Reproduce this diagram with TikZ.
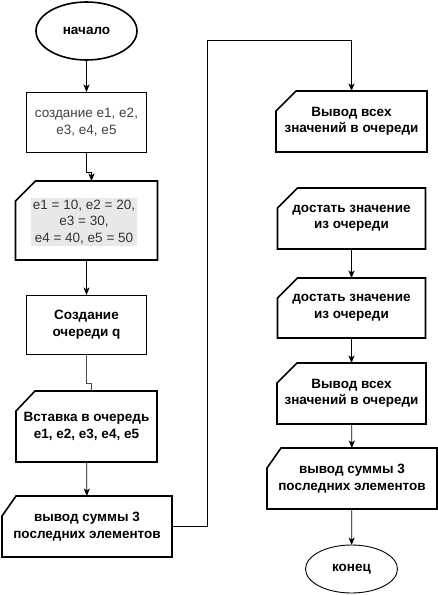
\documentclass[tikz,border=0pt]{standalone}
\usepackage{fontspec}
\setmainfont{Liberation Sans}
\usepackage{xcolor}
\usetikzlibrary{shapes}
\usetikzlibrary{arrows.meta}
\tikzset{
  font={\fontsize{13.5pt}{16.5pt}\selectfont}}

\begin{document}
\begin{tikzpicture}[x=1pt, y=-1pt]

    \tikzset{edge/.style = {->,> = {Stealth[length=7.5pt, width=6pt, inset=2pt]}, line width=0.8pt}}
    \tikzset{card/.style = {rectangle, inner sep=0pt, outer sep=0pt, align=center, font={\fontsize{13.5pt}{16.5pt}\selectfont\bfseries}}}
    \tikzset{box/.style = {rectangle, draw=black, line width=0.9pt, inner sep=0pt, outer sep=0pt, align=center}}

    \useasboundingbox (0,0) rectangle (438,595);

    % vertices
    \node[ellipse, draw=black, line width=1.6pt, outer sep=0pt, minimum width=101pt, minimum height=58pt] (start)
        at (86.5,31) {\textbf{начало}};
    \node[box, minimum width=120pt, minimum height=60pt, text=black!75] (create)
        at (86.5,122) {создание e1, e2,\\ e3, e4, e5};
    \node[card, minimum width=142pt, minimum height=79pt] (vals)
        at (86.5,220.5) {};
    \node[fill=black!9, text=black!80, inner sep=1.5pt, align=center] (valstext)
        at (84,222) {e1 = 10, e2 = 20,\\ e3 = 30,\\ e4 = 40, e5 = 50};
    \node[box, minimum width=120pt, minimum height=59pt, font={\fontsize{13.5pt}{16.5pt}\selectfont\bfseries}] (queue)
        at (86.5,324.5) {Создание\\ очереди q};
    \node[card, minimum width=141pt, minimum height=71pt] (push)
        at (86.5,426.5) {Вставка в очередь\\ e1, e2, e3, e4, e5};
    \node[card, minimum width=170pt, minimum height=61pt] (sumA)
        at (87,526.5) {вывод суммы 3\\ последних элементов};
    \node[card, minimum width=151pt, minimum height=61pt] (showA)
        at (351.5,121.5) {Вывод всех\\ значений в очереди};
    \node[card, minimum width=148pt, minimum height=61pt] (popA)
        at (351.5,218.5) {достать значение\\ из очереди};
    \node[card, minimum width=148pt, minimum height=60pt] (popB)
        at (351.5,308) {достать значение\\ из очереди};
    \node[card, minimum width=149pt, minimum height=61pt] (showB)
        at (351.5,393.5) {Вывод всех\\ значений в очереди};
    \node[card, minimum width=170pt, minimum height=61pt] (sumB)
        at (352,478.5) {вывод суммы 3\\ последних элементов};
    \node[ellipse, draw=black, line width=0.9pt, outer sep=0pt, minimum width=92pt, minimum height=48pt] (stop)
        at (351.5,569) {\textbf{конец}};
    \coordinate (turn) at (207,40);

    % card outlines
    \foreach \n/\c in {vals/20, push/19, sumA/14, showA/20, popA/20, popB/20, showB/20, sumB/14}
        \draw[line width=1.6pt] ([xshift=\c pt]\n.north west) -- (\n.north east) -- (\n.south east)
            -- (\n.south west) -- ([yshift=-20pt]\n.north west) -- cycle;

    %edges
    \draw[edge] (start) to (create);
    \draw[edge] (create.south) -- ++(0,20) -| ([xshift=5pt]vals.north);
    \draw[edge] (vals) to (queue);
    \draw[line width=0.8pt, black!70] (queue.south) -- ++(0,29) -| ([xshift=5pt]push.north);
    \draw[edge] (push) to (sumA);
    \draw[edge] (sumA.east) -| (turn) -| (showA.north);
    \draw[edge] (popA) to (popB);
    \draw[edge] (popB) to (showB);
    \draw[edge] (showB) to (sumB);
    \draw[edge] (sumB) to (stop);

\end{tikzpicture}
\end{document}
